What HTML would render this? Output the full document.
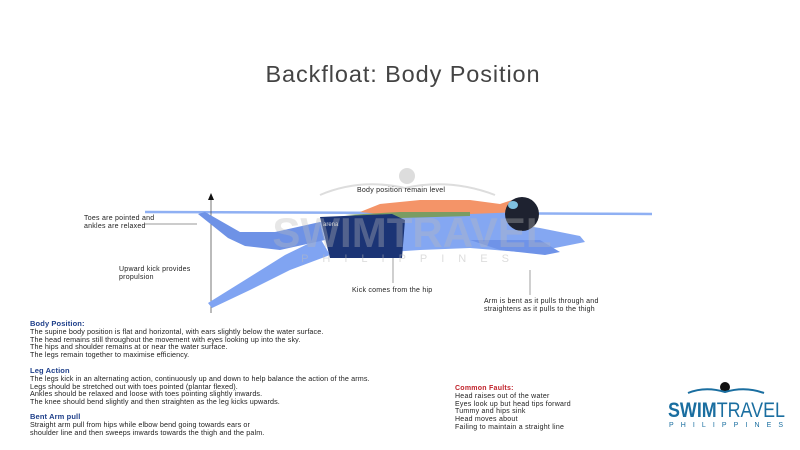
<!DOCTYPE html>
<html><head><style>
body{margin:0;width:800px;height:450px;background:#fff;overflow:hidden;position:relative;font-family:"Liberation Sans",sans-serif;}
.t{position:absolute;font-size:7px;color:#222;line-height:7.8px;white-space:nowrap;letter-spacing:0.25px}
.b{font-size:7.2px;letter-spacing:0.12px}
.h{color:#1e3f8a;font-weight:bold;font-size:7.5px}
</style></head><body>
<div style="position:absolute;left:0;width:806px;top:61px;text-align:center;font-size:23.5px;color:#444;letter-spacing:0.9px">Backfloat: Body Position</div>
<svg width="800" height="450" style="position:absolute;left:0;top:0">
<circle cx="407" cy="176" r="8" fill="#ddd"/>
<path d="M320 195 Q360 178 405 188 Q450 178 495 195" stroke="#ddd" stroke-width="2" fill="none"/>
<line x1="145" y1="212" x2="652" y2="214" stroke="#8fb0f3" stroke-width="2.5"/>
<line x1="211" y1="198" x2="211" y2="313" stroke="#555" stroke-width="0.8"/>
<polygon points="211,193 208,200 214,200" fill="#111"/>
<line x1="145" y1="224" x2="197" y2="224" stroke="#777" stroke-width="0.7"/>
<line x1="393" y1="258" x2="393" y2="283" stroke="#777" stroke-width="0.7"/>
<line x1="530" y1="270" x2="530" y2="295" stroke="#777" stroke-width="0.7"/>
<polygon points="320,238 330,255 290,270 250,290 212,308 208,303 245,280 285,255" fill="#80a4f2"/>
<polygon points="198,214 205,212 240,232 275,232 320,222 325,240 280,250 245,246 228,238" fill="#6e92e6"/>
<polygon points="320,222 410,214 500,210 520,225 540,228 580,236 585,242 545,250 520,252 470,248 420,250 330,256" fill="#84a7f2"/>
<polygon points="470,240 540,240 560,252 545,255 500,250" fill="#6f93e8"/>
<polygon points="360,212 380,204 420,200 470,200 500,204 512,200 520,212 470,214 400,216" fill="#f49468"/>
<polygon points="345,215 400,212 470,212 470,216 400,218" fill="#7a9c63"/>
<polygon points="320,217 392,214 405,220 402,258 330,258" fill="#1b3475"/>
<text x="323" y="226" font-size="6" fill="#ddd" font-family="Liberation Sans">arena</text>
<circle cx="522" cy="214" r="17" fill="#1e2230"/>
<ellipse cx="513" cy="205" rx="5" ry="4" fill="#7fc0e0"/>
<text x="412" y="247" text-anchor="middle" font-size="42" font-weight="bold" fill="#bbb" fill-opacity="0.35" font-family="Liberation Sans">SWIMTRAVEL</text>
<text x="412" y="262" text-anchor="middle" font-size="11" letter-spacing="14" fill="#bbb" fill-opacity="0.5" font-family="Liberation Sans">PHILIPPINES</text>
<circle cx="725" cy="387" r="5" fill="#111"/>
<path d="M688 393 Q705 386 725 392 Q745 386 764 393" stroke="#1a6ea0" stroke-width="2" fill="none"/>
<text x="668" y="417" font-size="21" textLength="117" lengthAdjust="spacingAndGlyphs" font-family="Liberation Sans" fill="#1a6ea0"><tspan font-weight="bold">SWIM</tspan>TRAVEL</text>
<text x="669" y="427" font-size="7" textLength="114" font-family="Liberation Sans" fill="#1a6ea0">PHILIPPINES</text>
</svg>
<div class="t" style="left:357px;top:187px">Body position remain level</div>
<div class="t" style="left:84px;top:215px">Toes are pointed and<br>ankles are relaxed</div>
<div class="t" style="left:119px;top:266px">Upward kick provides<br>propulsion</div>
<div class="t" style="left:352px;top:287px">Kick comes from the hip</div>
<div class="t" style="left:484px;top:298px">Arm is bent as it pulls through and<br>straightens as it pulls to the thigh</div>
<div class="t b" style="left:30px;top:320px"><span class="h">Body Position:</span><br>The supine body position is flat and horizontal, with ears slightly below the water surface.<br>The head remains still throughout the movement with eyes looking up into the sky.<br>The hips and shoulder remains at or near the water surface.<br>The legs remain together to maximise efficiency.</div>
<div class="t b" style="left:30px;top:367px"><span class="h">Leg Action</span><br>The legs kick in an alternating action, continuously up and down to help balance the action of the arms.<br>Legs should be stretched out with toes pointed (plantar flexed).<br>Ankles should be relaxed and loose with toes pointing slightly inwards.<br>The knee should bend slightly and then straighten as the leg kicks upwards.</div>
<div class="t b" style="left:30px;top:413px"><span class="h">Bent Arm pull</span><br>Straight arm pull from hips while elbow bend going towards ears or<br>shoulder line and then sweeps inwards towards the thigh and the palm.</div>
<div class="t" style="left:455px;top:385px"><span style="color:#c0222a;font-weight:bold">Common Faults:</span><br>Head raises out of the water<br>Eyes look up but head tips forward<br>Tummy and hips sink<br>Head moves about<br>Failing to maintain a straight line</div>
</body></html>
